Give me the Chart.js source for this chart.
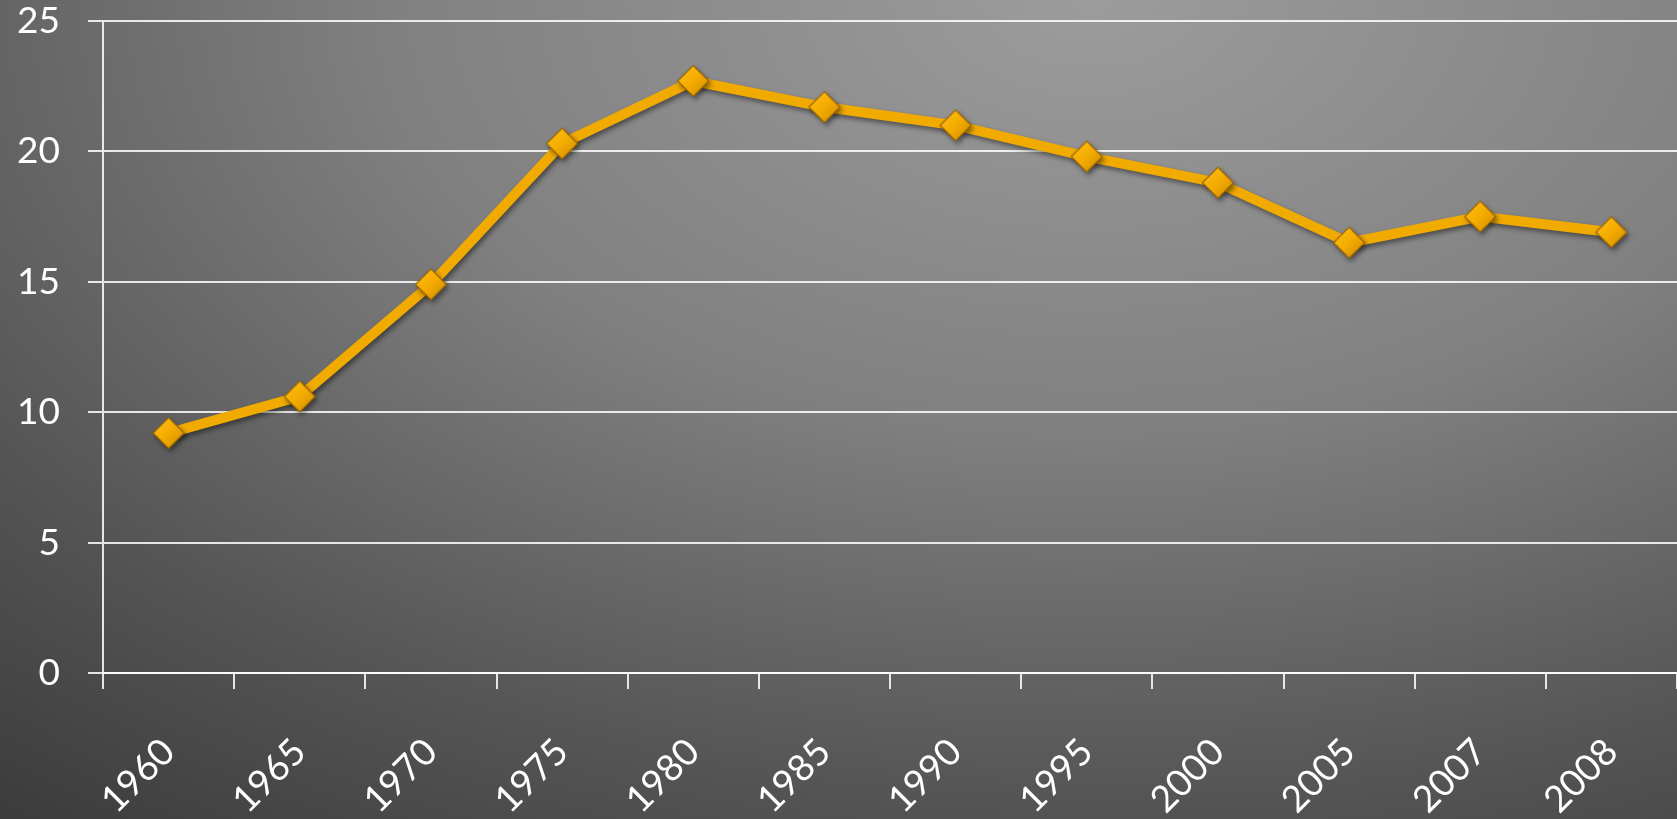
<!DOCTYPE html>
<html>
<head>
<meta charset="utf-8">
<script src="https://cdn.jsdelivr.net/npm/chart.js@4"></script>
<style>
  html, body { margin: 0; padding: 0; width: 1677px; height: 819px; overflow: hidden; }
  body {
    background: radial-gradient(ellipse 120% 150% at 65% 0%, #9c9c9c 0%, #808080 35%, #555 65%, #2a2a2a 100%);
  }
  #wrap { position: absolute; left: 0; top: 0; width: 1677px; height: 819px; }
</style>
</head>
<body>
<div id="wrap"><canvas id="c" width="1677" height="819"></canvas></div>
<script>
const categories = ['1960','1965','1970','1975','1980','1985','1990','1995','2000','2005','2007','2008'];
const values = [9.2, 10.6, 14.9, 20.3, 22.7, 21.7, 21.0, 19.8, 18.8, 16.5, 17.5, 16.9];
const yTicks = [0, 5, 10, 15, 20, 25];

function makeMarker() {
  const s = 36, c = document.createElement('canvas');
  c.width = s; c.height = s;
  const g = c.getContext('2d');
  const m = s / 2, r = 15.5;
  g.beginPath();
  g.moveTo(m, m - r); g.lineTo(m + r, m); g.lineTo(m, m + r); g.lineTo(m - r, m); g.closePath();
  const grad = g.createLinearGradient(m - r, m - r, m + r, m + r);
  grad.addColorStop(0, '#ffc21a');
  grad.addColorStop(0.5, '#f5ac00');
  grad.addColorStop(1, '#c98a00');
  g.fillStyle = grad; g.fill();
  g.lineWidth = 1.2; g.strokeStyle = 'rgba(150,95,0,0.9)'; g.stroke();
  return c;
}
const marker = makeMarker();

const shadowPlugin = {
  id: 'shadow',
  beforeDatasetsDraw(chart) {
    const ctx = chart.ctx; ctx.save();
    ctx.shadowColor = 'rgba(0,0,0,0.45)'; ctx.shadowBlur = 5; ctx.shadowOffsetX = 2; ctx.shadowOffsetY = 3;
  },
  afterDatasetsDraw(chart) { chart.ctx.restore(); }
};

const labelFont = { family: 'Lato', size: 37, weight: '400' };

new Chart(document.getElementById('c'), {
  type: 'line',
  data: {
    labels: categories,
    datasets: [{
      data: values,
      borderColor: '#f0aa00',
      borderWidth: 10,
      tension: 0,
      pointStyle: marker,
      pointRadius: 16,
      pointHoverRadius: 16,
      fill: false,
      clip: false
    }]
  },
  options: {
    responsive: false,
    animation: false,
    events: [],
    layout: { autoPadding: false, padding: { top: 21, right: 0, left: 0, bottom: 0 } },
    plugins: { legend: { display: false }, tooltip: { enabled: false } },
    scales: {
      x: {
        offset: true,
        grid: { offset: true, drawOnChartArea: false, drawTicks: true, tickLength: 16, color: 'rgba(255,255,255,0.85)', lineWidth: 2 },
        border: { display: true, color: 'rgba(255,255,255,0.85)', width: 2 },
        ticks: {
          color: '#ffffff', maxRotation: 45, minRotation: 45, padding: 41, autoSkip: false,
          font: labelFont
        },
        afterFit(s) { s.height = 146; s.paddingLeft = 0; s.paddingRight = 0; }
      },
      y: {
        min: 0, max: 25,
        afterBuildTicks(s) { s.ticks = yTicks.map(v => ({ value: v })); },
        grid: { drawTicks: true, tickLength: 15, color: 'rgba(255,255,255,0.85)', lineWidth: 2 },
        border: { display: true, color: 'rgba(255,255,255,0.85)', width: 2 },
        ticks: { color: '#ffffff', padding: 28, font: labelFont },
        afterFit(s) { s.width = 103; s.paddingTop = 0; s.paddingBottom = 0; }
      }
    }
  },
  plugins: [shadowPlugin]
});
</script>
</body>
</html>
